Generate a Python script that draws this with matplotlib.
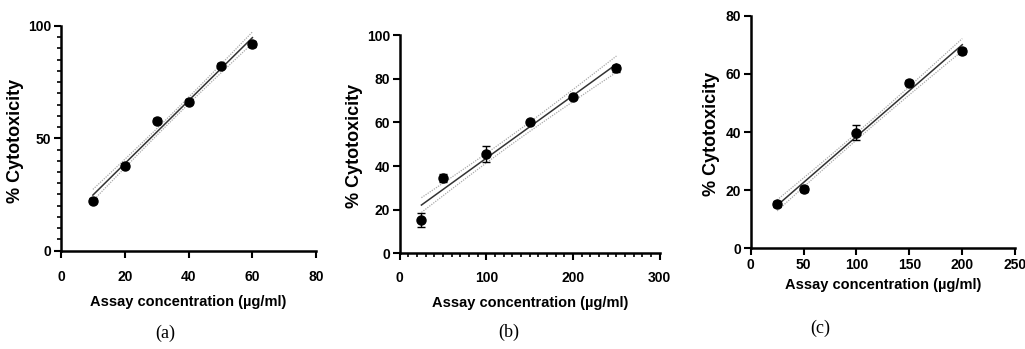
import numpy as np
import matplotlib
matplotlib.use('Agg')
import matplotlib.pyplot as plt
from matplotlib.ticker import MultipleLocator

plt.rcParams['font.family'] = ['Liberation Sans', 'DejaVu Sans']

# panel (a)
conc_a = [10, 20, 30, 40, 50, 60]
cyto_a = [22.3, 37.8, 57.9, 66.3, 82.3, 92.0]
err_a = [1.0, 1.0, 1.0, 1.0, 1.0, 1.2]

# panel (b)
conc_b = [25, 50, 100, 150, 200, 250]
cyto_b = [15.2, 34.6, 45.7, 60.3, 71.6, 84.7]
err_b = [3.3, 1.8, 3.7, 1.0, 1.0, 1.8]

# panel (c)
conc_c = [25, 50, 100, 150, 200]
cyto_c = [15.2, 20.3, 39.8, 57.0, 67.8]
err_c = [1.0, 1.0, 2.5, 1.0, 1.0]

REPS = 3  # triplicate wells per concentration

panels = [
    dict(x=conc_a, y=cyto_a, e=err_a, xlim=(0, 80), ylim=(0, 100), xt=[0, 20, 40, 60, 80],
         yt=[0, 50, 100], xminor=None, yminor=5, pos=[0.0595, 0.2817, 0.249, 0.644],
         ylc=-0.18, xlc=-0.227, xpad=9, cap='(a)', cap_xy=(0.161, 0.045)),
    dict(x=conc_b, y=cyto_b, e=err_b, xlim=(0, 300), ylim=(0, 100), xt=[0, 100, 200, 300],
         yt=[0, 20, 40, 60, 80, 100], xminor=10, yminor=None, pos=[0.390, 0.274, 0.2537, 0.6255],
         ylc=-0.173, xlc=-0.229, xpad=8, cap='(b)', cap_xy=(0.496, 0.048)),
    dict(x=conc_c, y=cyto_c, e=err_c, xlim=(0, 250), ylim=(0, 80), xt=[0, 50, 100, 150, 200, 250],
         yt=[0, 20, 40, 60, 80], xminor=None, yminor=None, pos=[0.7324, 0.2885, 0.258, 0.6665],
         ylc=-0.148, xlc=-0.159, xpad=2, cap='(c)', cap_xy=(0.800, 0.06)),
]

fig = plt.figure(figsize=(10.25, 3.49), dpi=100)

for p in panels:
    ax = fig.add_axes(p['pos'])
    x = np.array(p['x'], dtype=float)
    y = np.array(p['y'], dtype=float)

    # linear fit with 95% confidence band (replicate-based)
    slope, icpt = np.polyfit(x, y, 1)
    xf = np.linspace(x.min(), x.max(), 100)
    yf = slope * xf + icpt
    n = len(x) * REPS
    resid = y - (slope * x + icpt)
    s = np.sqrt(REPS * np.sum(resid ** 2) / (n - 2))
    tval = 2.12
    band = tval * s * np.sqrt(1.0 / n + (xf - x.mean()) ** 2 / (REPS * np.sum((x - x.mean()) ** 2)))

    ax.plot(xf, yf, color='#333333', lw=1.1, zorder=2)
    ax.plot(xf, yf + band, color='#aaaaaa', lw=0.9, ls=(0, (1, 1)), zorder=1)
    ax.plot(xf, yf - band, color='#aaaaaa', lw=0.9, ls=(0, (1, 1)), zorder=1)
    ax.errorbar(x, y, yerr=p['e'], fmt='o', color='black', ms=6.5, capsize=3,
                elinewidth=1, capthick=1, zorder=3)

    ax.set_xlim(*p['xlim'])
    ax.set_ylim(*p['ylim'])
    ax.set_xticks(p['xt'])
    ax.set_yticks(p['yt'])
    if p['xminor']:
        ax.xaxis.set_minor_locator(MultipleLocator(p['xminor']))
    if p['yminor']:
        ax.yaxis.set_minor_locator(MultipleLocator(p['yminor']))

    for side in ['top', 'right']:
        ax.spines[side].set_visible(False)
    for side in ['left', 'bottom']:
        ax.spines[side].set_linewidth(1.8)
    ax.tick_params(which='major', direction='out', length=5, width=1.5, labelsize=10, pad=2)
    ax.tick_params(axis='x', which='major', pad=p['xpad'])
    ax.tick_params(which='minor', direction='out', length=3, width=1.2)
    for lbl in ax.get_xticklabels() + ax.get_yticklabels():
        lbl.set_fontweight('bold')
    ax.set_xlabel('Assay concentration (µg/ml)', fontsize=10.5, fontweight='bold')
    ax.set_ylabel('% Cytotoxicity', fontsize=13, fontweight='bold')
    ax.xaxis.set_label_coords(0.5, p['xlc'])
    ax.xaxis.label.set_va('center')
    ax.yaxis.set_label_coords(p['ylc'], 0.49)
    ax.yaxis.label.set_va('center')
    ax.patch.set_alpha(0)

    fig.text(p['cap_xy'][0], p['cap_xy'][1], p['cap'], fontsize=13,
             family=['Liberation Serif', 'DejaVu Serif'], ha='center', va='center')

fig.savefig('out.png', dpi=100)
